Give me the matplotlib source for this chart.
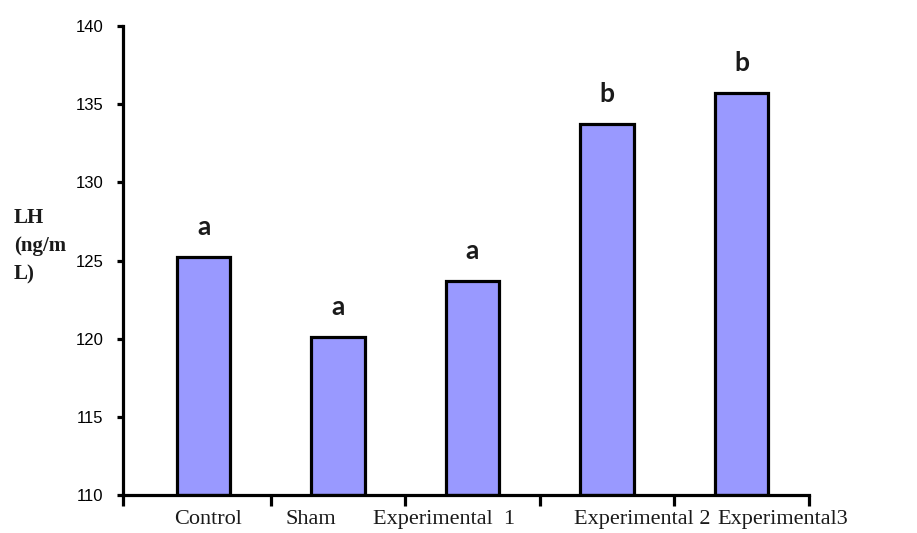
import numpy as np
import matplotlib.pyplot as plt

# LH concentration per group
groups = ["Control", "Sham", "Experimental  1", "Experimental 2", "Experimental3"]
lh_values = [125.2, 120.1, 123.7, 133.7, 135.7]
sig_letters = ["a", "a", "a", "b", "b"]
# horizontal nudge of each group label under the axis (category units)
label_shift = [0.03, -0.20, -0.21, 0.26, 0.31]

bar_color = "#9999ff"

fig = plt.figure(figsize=(9.17, 5.33), dpi=100)
ax = fig.add_axes([0.134, 0.0713, 0.748, 0.8799])

x = np.arange(len(groups))
ax.bar(x, np.array(lh_values) - 110, bottom=110, width=0.4,
       color=bar_color, edgecolor="black", linewidth=2.3, zorder=2)

for xi, val, letter in zip(x, lh_values, sig_letters):
    ax.annotate(letter, (xi, val), xytext=(0, 16), textcoords="offset points",
                ha="center", va="baseline", fontsize=19, fontweight="bold",
                family=["Lato", "DejaVu Sans"], color="#1a1a1a")

ax.set_ylim(110, 140)
ax.set_yticks(np.arange(110, 141, 5))
ax.set_yticklabels([str(v) for v in range(110, 141, 5)],
                   family=["Liberation Sans Narrow", "Liberation Sans"], fontsize=12)

left, right = -0.6, 4.5
ax.set_xlim(left, right)
ax.set_xticks([left, 0.5, 1.5, 2.5, 3.5, right])
ax.set_xticklabels([])
ax.tick_params(axis="x", direction="out", length=8, width=2.3)
ax.tick_params(axis="y", direction="out", length=4, width=2.3, pad=10)

for xi, name, shift in zip(x, groups, label_shift):
    ax.text(xi + shift, -0.032, name, transform=ax.get_xaxis_transform(),
            ha="center", va="top", fontsize=16, family="Liberation Serif",
            color="#1a1a1a")

for side in ["top", "right"]:
    ax.spines[side].set_visible(False)
for side in ["left", "bottom"]:
    ax.spines[side].set_linewidth(2.3)

fig.text(14 / 917, 1 - 208 / 533, "LH\n(ng/m\nL)", ha="left", va="top",
         fontsize=15, fontweight="bold", family="Liberation Serif",
         linespacing=1.55, color="#1a1a1a")

fig.savefig("out.png", dpi=100)
